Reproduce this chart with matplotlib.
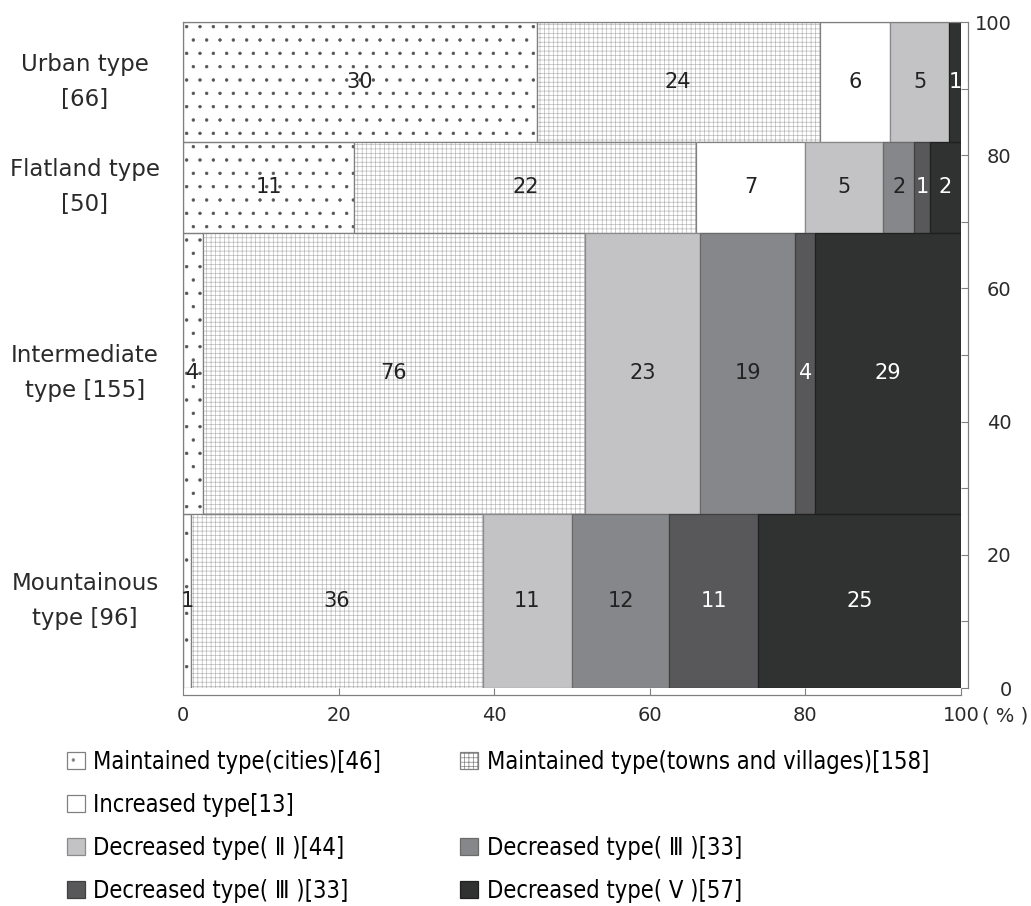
import numpy as np
import matplotlib.pyplot as plt
from matplotlib.patches import Patch
from matplotlib.ticker import MultipleLocator

# regions (top to bottom) and counts per municipality type
regions = ['Urban type\n[66]', 'Flatland type\n[50]', 'Intermediate\ntype [155]', 'Mountainous\ntype [96]']
cities = [30, 11, 4, 1]
towns = [24, 22, 76, 36]
increased = [6, 7, 0, 0]
dec2 = [5, 5, 23, 11]
dec3 = [0, 2, 19, 12]
dec4 = [0, 1, 4, 11]
dec5 = [1, 2, 29, 25]

legend_labels = ['Maintained type(cities)[46]', 'Maintained type(towns and villages)[158]',
                 'Increased type[13]', 'Decreased type( Ⅱ )[44]', 'Decreased type( Ⅲ )[33]',
                 'Decreased type( Ⅲ )[33]', 'Decreased type( Ⅴ )[57]']
xticks = [0, 20, 40, 60, 80, 100]

series = [cities, towns, increased, dec2, dec3, dec4, dec5]
faces = ['white', 'white', 'white', '#c3c3c5', '#86878a', '#58585b', '#303131']
hatches = ['.', '+++', None, None, None, None, None]
hatch_cols = ['#555555', '#b8b8b8', 'white', '#c3c3c5', '#86878a', '#58585b', '#303131']
edges = ['#808080', '#808080', '#808080', '#8a8a8a', '#6a6a6a', '#404040', '#202020']
txt_cols = ['#222', '#222', '#222', '#222', '#222', 'white', 'white']

# drawn at 80 dpi so the hatch cells come out at the reference spacing;
# K converts sizes given for 100 dpi
DPI = 80
K = 100 / DPI
plt.rcParams['hatch.linewidth'] = 0.5 * K
plt.rcParams['font.family'] = ['DejaVu Sans']

fig = plt.figure(figsize=(1031 / DPI, 906 / DPI), dpi=DPI)
ax = fig.add_axes([0.1775, 0.2406, 0.7546, 0.7351])

totals = np.sum(series, axis=0)
heights = totals / totals.sum() * 100
tops = 100 - np.concatenate([[0], np.cumsum(heights)[:-1]])
centers = tops - heights / 2

left = np.zeros(len(regions))
for k, vals in enumerate(series):
    vals = np.array(vals)
    w = vals / totals * 100
    m = vals > 0
    ax.barh(centers[m], w[m], height=heights[m], left=left[m], color=faces[k],
            hatch=hatches[k], edgecolor=hatch_cols[k], linewidth=0)
    ax.barh(centers[m], w[m], height=heights[m], left=left[m], fill=False,
            edgecolor=edges[k], linewidth=0.9 * K)
    for i in np.where(m)[0]:
        ax.text(left[i] + w[i] / 2, centers[i], str(vals[i]), ha='center', va='center',
                fontsize=15 * K, color=txt_cols[k])
    left += w

for i, r in enumerate(regions):
    ax.text(-12.6, centers[i], r, ha='center', va='center', fontsize=16.5 * K,
            linespacing=1.65, color='#2a2a2a')

ax.set_xlim(0, 100)
ax.set_ylim(0, 100)
ax.set_xticks(xticks)
ax.set_xticklabels([str(x) for x in xticks])
ax.yaxis.tick_right()
ax.set_yticks(range(0, 101, 20))
ax.yaxis.set_minor_locator(MultipleLocator(10))
ax.spines['bottom'].set_position(('outward', 6))
ax.spines['right'].set_position(('outward', 6))
ax.tick_params(direction='in', length=6, width=0.8 * K, labelsize=14 * K,
               labelcolor='#2a2a2a', color='#808080')
ax.tick_params(which='minor', direction='in', length=6, width=0.8 * K, color='#808080')
ax.tick_params(axis='y', pad=39.5)
ax.tick_params(axis='x', pad=10)
for t in ax.yaxis.get_major_ticks():
    t.label2.set_horizontalalignment('right')
for s in ax.spines.values():
    s.set_color('#808080')
    s.set_linewidth(0.9 * K)
fig.text(1005 / 1031, 1 - 716 / 906, '( % )', ha='center', va='center',
         fontsize=14 * K, color='#2a2a2a')

handles = []
for k in range(7):
    handles.append(Patch(facecolor=faces[k], hatch=hatches[k],
                         edgecolor='#808080' if k < 3 else edges[k], linewidth=0.9 * K))
blank = Patch(facecolor='none', edgecolor='none')
order_h = [handles[0], handles[2], handles[3], handles[5], handles[1], blank, handles[4], handles[6]]
order_l = [legend_labels[0], legend_labels[2], legend_labels[3], legend_labels[5],
           legend_labels[1], '', legend_labels[4], legend_labels[6]]
fig.legend(order_h, order_l, loc='upper left', bbox_to_anchor=(67 / 1031, 1 - 750 / 906), ncol=2,
           frameon=False, borderpad=0, borderaxespad=0,
           handlelength=0.76, handleheight=0.76, handletextpad=0.35,
           columnspacing=3.35, labelspacing=0.8,
           prop={'family': 'DejaVu Sans', 'stretch': 'condensed', 'size': 17 * K})

fig.savefig('out.png', dpi=DPI)
